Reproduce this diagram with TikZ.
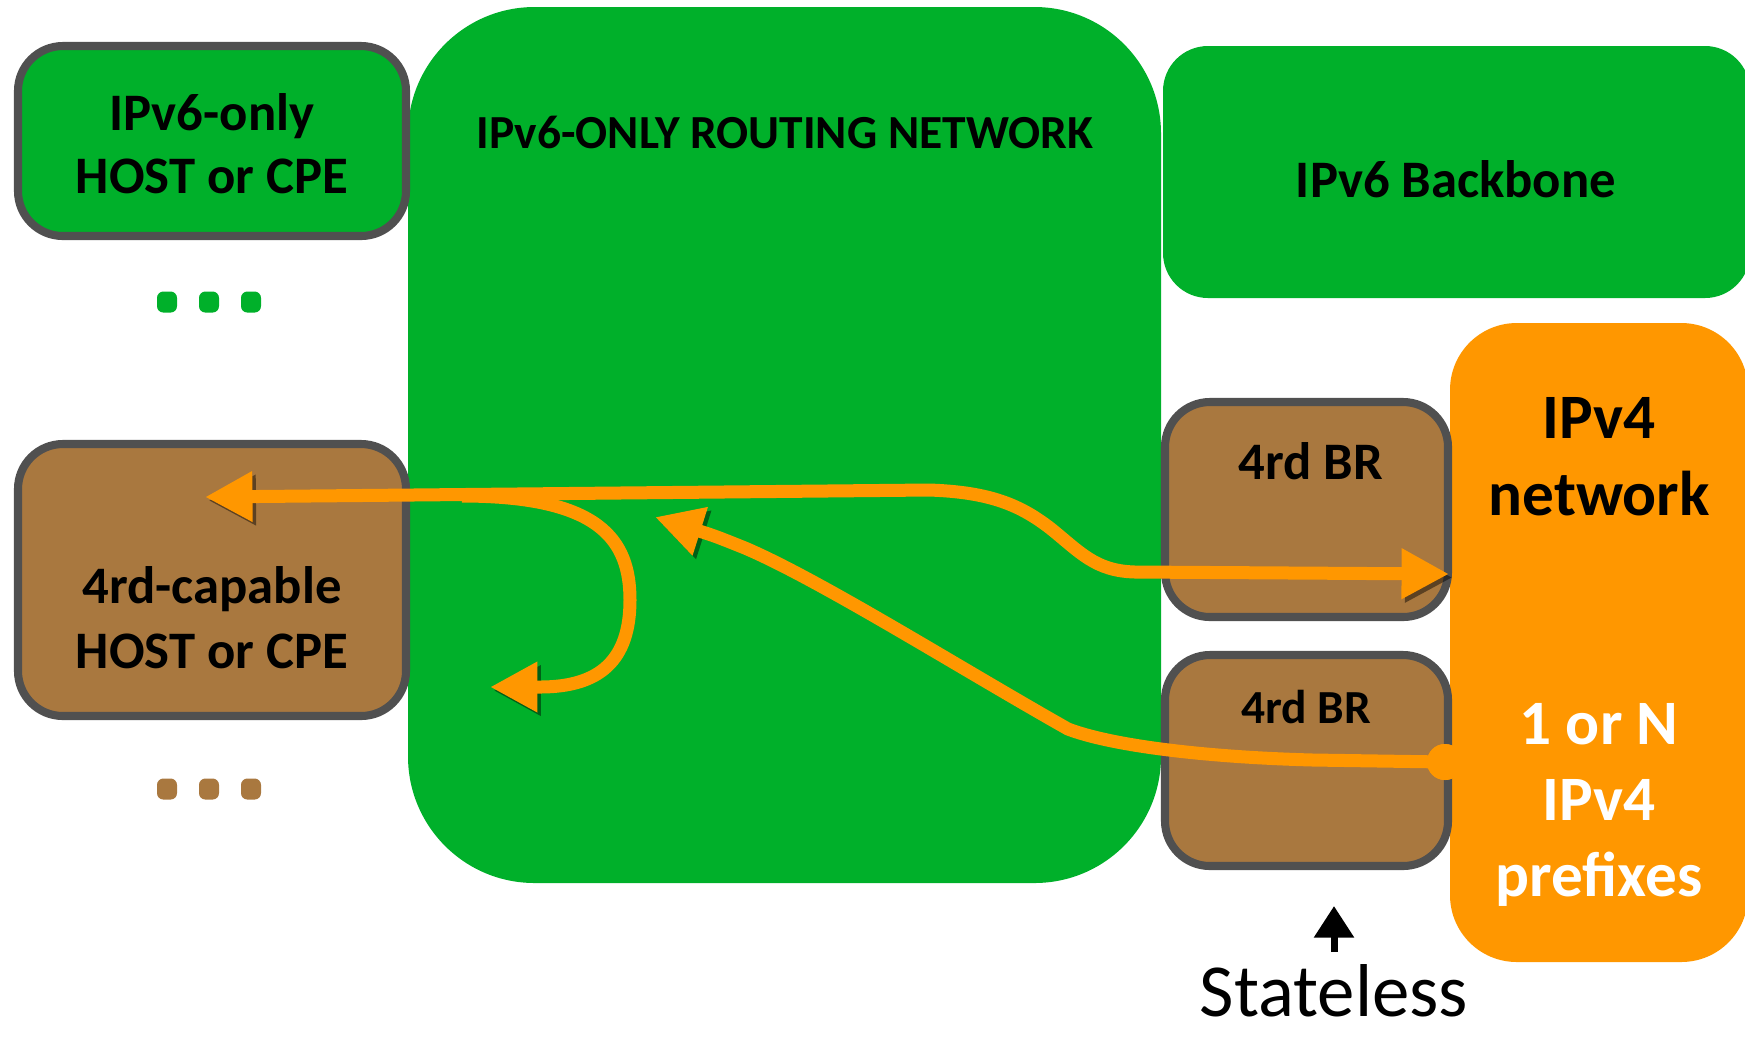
\documentclass[tikz,border=0pt]{standalone}
\usepackage{fontspec}
\setmainfont{Carlito}
\usepackage{tikz}
\usetikzlibrary{arrows.meta}
\usetikzlibrary{positioning}
\definecolor{netgreen}{HTML}{00B02A}
\definecolor{brgold}{HTML}{A9783F}
\definecolor{vfourorange}{HTML}{FF9700}
\definecolor{rimgray}{HTML}{505050}
\newcommand{\boxfont}{\bfseries\fontsize{15}{18}\selectfont}
\newcommand{\bigfont}{\bfseries\fontsize{18}{21.5}\selectfont}
\tikzset{every text node part/.style={align=center}}
\tikzstyle{hostbox} = [rectangle, draw=rimgray, line width=2.3pt, rounded corners=12.8pt, minimum width=38.8mm]
\tikzstyle{flow} = [draw=vfourorange, line width=3.7pt, line join=round,
  preaction={draw=black, opacity=.45, transform canvas={xshift=1pt, yshift=-1pt}}]

\begin{document}
\begin{tikzpicture}[x=0.1mm, y=-0.1mm,
    lbl/.style={anchor=base, inner sep=0pt, font=\boxfont},
    dot/.style={rectangle, rounded corners=1.8pt, minimum width=2mm, minimum height=2.1mm, inner sep=0pt},
    >={Triangle[length=13.5pt, width=13.5pt]}
  ]
  \useasboundingbox (0,0) rectangle (1745,1037);

  % Define routing network and backbone
  \node[rectangle, fill=netgreen, rounded corners=36pt, minimum width=75.3mm, minimum height=87.6mm] (routing) at (784.5,445) {};
  \node[rectangle, fill=netgreen, rounded corners=12.8pt, minimum width=58.7mm, minimum height=25.2mm] (backbone) at (1456.5,172) {};
  \node[rectangle, fill=vfourorange, rounded corners=19pt, minimum width=29.8mm, minimum height=63.9mm] (vfournet) at (1599,642.5) {};

  % Define hosts
  \node[hostbox, fill=netgreen, minimum height=19mm] (vsixhost) at (212,141) {};
  \node[hostbox, fill=brgold, minimum height=27.2mm] (rdhost) at (212,580) {};

  % Define border relays
  \node[hostbox, fill=brgold, minimum width=28.3mm, minimum height=21.5mm] (brone) at (1306.5,509.5) {};
  \node[hostbox, fill=brgold, minimum width=28.3mm, minimum height=21.1mm] (brtwo) at (1306.5,760.5) {};

  % Texts (base = last line)
  \node[lbl, font=\bfseries\fontsize{13.5}{16}\selectfont] (routingtxt) at (785,148) {IPv6-ONLY ROUTING NETWORK};
  \node[lbl] (backbonetxt) at (1456,197) {IPv6 Backbone};
  \node[lbl, font=\bfseries\fontsize{15}{17.8}\selectfont] (vsixhosttxt) at (212,193) {IPv6-only\\HOST or CPE};
  \node[lbl, font=\bfseries\fontsize{15}{18.4}\selectfont] (rdhosttxt) at (212,668) {4rd-capable\\HOST or CPE};
  \node[lbl] (bronetxt) at (1311,479) {4rd BR};
  \node[lbl, font=\bfseries\fontsize{13.5}{16}\selectfont] (brtwotxt) at (1306,723) {4rd BR};
  \node[lbl, font=\bfseries\fontsize{18}{21.9}\selectfont] (vfournettxt) at (1599,515) {IPv4\\network};
  \node[lbl, font=\bigfont, text=white] (prefixtxt) at (1599,896) {1 or N\\IPv4\\prefixes};

  % Dots
  \foreach \x in {167,209,251} {
    \node[dot, fill=netgreen] (gdot\x) at (\x,302) {};
    \node[dot, fill=brgold] (bdot\x) at (\x,789) {};
  }

  % Arrow ends
  \coordinate (hosttip) at (205,497);
  \coordinate (netip) at (1449,574);
  \coordinate (branch) at (462,496);
  \coordinate (uturntip) at (490,687);
  \coordinate (backtip) at (655,517);
  \node[circle, fill=vfourorange, minimum size=3.6mm, inner sep=0pt] (prefixdot) at (1445,762) {};

  % Draw flows
  \draw[flow, ->] (prefixdot.center) -- (1313,760) .. controls (1200,757) and (1110,745) .. (1068,729)
    .. controls (960,668) and (820,580) .. (745,548) .. controls (715,536) .. (backtip);
  \draw[flow, ->] (branch) .. controls (600,496) and (630,540) .. (630,600)
    .. controls (630,660) and (600,687) .. (540,687) -- (uturntip);
  \draw[flow, <->] (hosttip) -- (929,490) .. controls (990,492) and (1020,505) .. (1050,528)
    .. controls (1080,552) and (1095,571) .. (1135,572) -- (netip);
  \fill[vfourorange] (prefixdot) circle (1.8mm);

  % Stateless
  \node[anchor=base, inner sep=0pt, font=\fontsize{21.3}{25}\selectfont] (stateless) at (1334,1016) {Stateless};
  \coordinate (upfoot) at (1334,952);
  \coordinate (uptip) at (1334,906);
  \draw[line width=2pt, -{Triangle[length=9pt, width=11pt]}] (upfoot) -- (uptip);
\end{tikzpicture}
\end{document}
